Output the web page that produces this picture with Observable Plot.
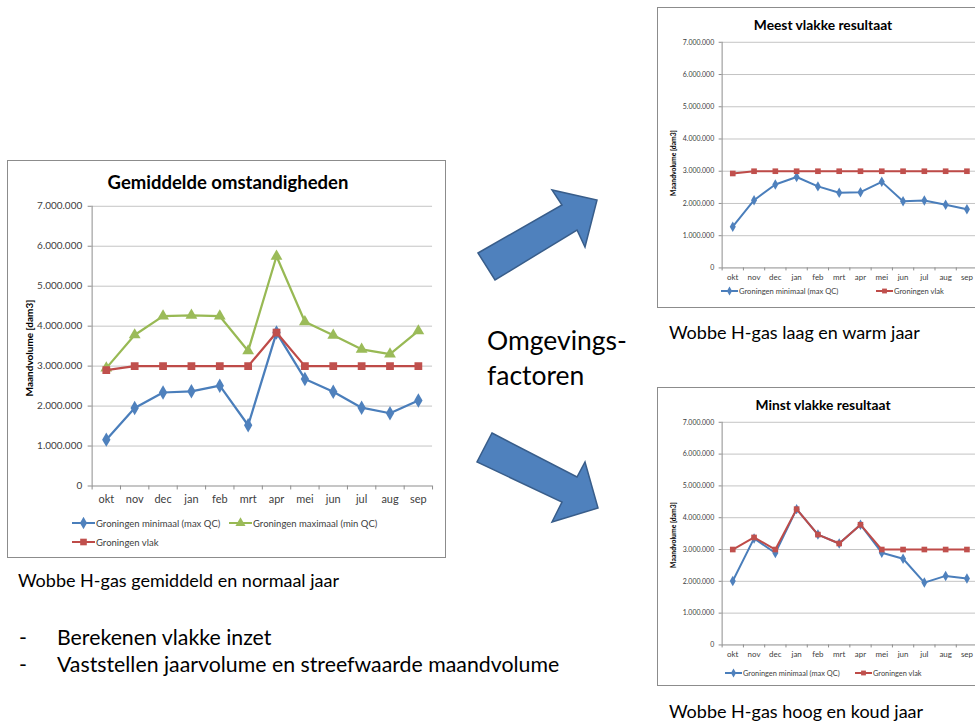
<!DOCTYPE html>
<html>
<head>
<meta charset="utf-8">
<script src="https://cdn.jsdelivr.net/npm/d3@7"></script>
<script src="https://cdn.jsdelivr.net/npm/@observablehq/plot@0.6"></script>
<style>
  html, body { margin: 0; padding: 0; background: #fff; }
  #page { position: relative; width: 975px; height: 722px; overflow: hidden; font-family: Lato, "Open Sans", sans-serif; color: #000; }
  .frame { position: absolute; border: 1px solid #8c8c8c; background: #fff; box-sizing: border-box; }
  .frame svg { position: absolute; left: 0; top: 0; }
  .title { position: absolute; font-weight: bold; white-space: nowrap; transform: translate(-50%, -50%); color: #000; }
  .ytitle { position: absolute; font-weight: bold; white-space: nowrap; transform: translate(-50%, -50%) rotate(-90deg); color: #000; }
  .legend { position: absolute; white-space: nowrap; color: #404040; display: flex; align-items: center; }
  .legend svg { position: static; margin-right: 1px; }
  .txt { position: absolute; white-space: nowrap; color: #000; }
</style>
</head>
<body>
<div id="page"></div>
<script>
// Months of the gas year
const months = ["okt", "nov", "dec", "jan", "feb", "mrt", "apr", "mei", "jun", "jul", "aug", "sep"];
const yTicks = [0, 1000000, 2000000, 3000000, 4000000, 5000000, 6000000, 7000000];

// Gemiddelde omstandigheden (maandvolume, dam3)
const gemMinimaal = [1160000, 1950000, 2340000, 2370000, 2510000, 1520000, 3840000, 2680000, 2360000, 1960000, 1820000, 2140000];
const gemMaximaal = [2950000, 3780000, 4250000, 4270000, 4250000, 3380000, 5750000, 4110000, 3770000, 3420000, 3300000, 3880000];
const gemVlak     = [2900000, 3000000, 3000000, 3000000, 3000000, 3000000, 3840000, 3000000, 3000000, 3000000, 3000000, 3000000];

// Meest vlakke resultaat
const meestMinimaal = [1280000, 2100000, 2590000, 2820000, 2530000, 2330000, 2350000, 2670000, 2070000, 2090000, 1960000, 1820000];
const meestVlak     = [2930000, 3000000, 3000000, 3000000, 3000000, 3000000, 3000000, 3000000, 3000000, 3000000, 3000000, 3000000];

// Minst vlakke resultaat
const minstMinimaal = [2010000, 3350000, 2890000, 4270000, 3470000, 3190000, 3780000, 2900000, 2710000, 1960000, 2170000, 2090000];
const minstVlak     = [3000000, 3380000, 3000000, 4270000, 3470000, 3190000, 3780000, 3000000, 3000000, 3000000, 3000000, 3000000];

const colors = {
  blue:  { line: "#4A7EBB", fill: "#4F81BD", symbol: "diamond" },
  green: { line: "#98B954", fill: "#9BBB59", symbol: "triangle" },
  red:   { line: "#BE4B48", fill: "#C0504D", symbol: "square" }
};

const nl = d3.formatLocale({ decimal: ",", thousands: ".", grouping: [3], currency: ["€", ""] }).format(",");
const axisGray = "#8c8c8c";
const gridGray = "#c4c4c4";

const page = document.getElementById("page");

function el(tag, cls, style, text) {
  const e = document.createElement(tag);
  if (cls) e.className = cls;
  Object.assign(e.style, style || {});
  if (text != null) e.textContent = text;
  return e;
}

function swatch(c, len, r) {
  const h = Math.ceil(r * 2 + 4);
  const svg = d3.create("svg").attr("width", len).attr("height", h);
  svg.append("line").attr("x1", 0).attr("x2", len).attr("y1", h / 2).attr("y2", h / 2)
    .attr("stroke", c.line).attr("stroke-width", 2);
  const sym = { diamond: d3.symbolDiamond, triangle: d3.symbolTriangle, square: d3.symbolSquare }[c.symbol];
  svg.append("path").attr("d", d3.symbol(sym, Math.PI * r * r)())
    .attr("transform", `translate(${len / 2},${h / 2})`).attr("fill", c.fill);
  return svg.node();
}

function chart(cfg) {
  const frame = el("div", "frame", { left: cfg.left + "px", top: cfg.top + "px", width: cfg.width + "px", height: cfg.height + "px" });
  const rows = months.map((m, i) => ({ i, m }));
  const marks = [
    Plot.ruleY(yTicks.slice(1), { stroke: gridGray, strokeWidth: 1 }),
    Plot.ruleY([0], { stroke: axisGray }),
    Plot.ruleX([-0.5], { y1: 0, y2: 7000000, stroke: axisGray }),
    Plot.axisY(yTicks, { tickSize: cfg.tick, tickPadding: cfg.ypad, tickFormat: nl, stroke: axisGray, fontSize: cfg.yFont, label: null }),
    Plot.axisX(d3.range(13).map(i => i - 0.5), { tickSize: cfg.tick, tickFormat: () => "", stroke: axisGray, label: null }),
    Plot.axisX(d3.range(12), { tickSize: 0, tickPadding: cfg.xpad, tickFormat: i => months[i], fontSize: cfg.xFont, label: null })
  ];
  for (const s of cfg.series) {
    marks.push(Plot.line(rows, { x: "i", y: d => s.values[d.i], stroke: s.c.line, strokeWidth: cfg.sw }));
    marks.push(Plot.dot(rows, { x: "i", y: d => s.values[d.i], symbol: s.c.symbol, fill: s.c.fill, r: cfg.r }));
  }
  const svg = Plot.plot({
    width: cfg.width,
    height: cfg.height,
    marginLeft: cfg.ml, marginRight: cfg.width - cfg.ml - cfg.pw,
    marginTop: cfg.mt, marginBottom: cfg.height - cfg.mt - cfg.ph,
    style: { fontFamily: "Lato, sans-serif", color: "#404040", background: "transparent", overflow: "visible" },
    x: { type: "linear", domain: [-0.5, 11.5] },
    y: { type: "linear", domain: [0, 7000000] },
    marks
  });
  frame.appendChild(svg);
  frame.appendChild(el("div", "title", { left: cfg.titleX + "px", top: cfg.titleY + "px", fontSize: cfg.titleFont + "px" }, cfg.title));
  frame.appendChild(el("div", "ytitle", { left: cfg.ytX + "px", top: cfg.ytY + "px", fontSize: cfg.ytFont + "px" }, "Maandvolume [dam3]"));
  for (const lg of cfg.legend) {
    const item = el("div", "legend", { left: lg.x + "px", top: lg.y + "px", fontSize: cfg.legFont + "px", transform: "translateY(-50%)" });
    item.appendChild(swatch(lg.c, cfg.swLen, cfg.r * 0.85));
    item.appendChild(el("span", null, {}, lg.label));
    frame.appendChild(item);
  }
  page.appendChild(frame);
}

// Gemiddelde omstandigheden
chart({
  left: 7, top: 160, width: 439, height: 398,
  ml: 84, pw: 342, mt: 45, ph: 281,
  tick: 4, ypad: 6, xpad: 9, yFont: 10, xFont: 11, sw: 2.25, r: 4.4,
  title: "Gemiddelde omstandigheden", titleX: 220, titleY: 21, titleFont: 18.5,
  ytX: 21, ytY: 187, ytFont: 10,
  legFont: 9.5, swLen: 23,
  series: [
    { values: gemMinimaal, c: colors.blue },
    { values: gemMaximaal, c: colors.green },
    { values: gemVlak, c: colors.red }
  ],
  legend: [
    { x: 64, y: 362, c: colors.blue, label: "Groningen minimaal (max QC)" },
    { x: 221, y: 362, c: colors.green, label: "Groningen maximaal (min QC)" },
    { x: 64, y: 381, c: colors.red, label: "Groningen vlak" }
  ]
});

// Meest vlakke resultaat
chart({
  left: 657, top: 7, width: 335, height: 301,
  ml: 64, pw: 257, mt: 34, ph: 227,
  tick: 3, ypad: 5, xpad: 6, yFont: 7, xFont: 8, sw: 2, r: 3.2,
  title: "Meest vlakke resultaat", titleX: 165, titleY: 16, titleFont: 13.8,
  ytX: 15, ytY: 155, ytFont: 6.8,
  legFont: 7.6, swLen: 17,
  series: [
    { values: meestMinimaal, c: colors.blue },
    { values: meestVlak, c: colors.red }
  ],
  legend: [
    { x: 63, y: 283, c: colors.blue, label: "Groningen minimaal (max QC)" },
    { x: 218, y: 283, c: colors.red, label: "Groningen vlak" }
  ]
});

// Minst vlakke resultaat
chart({
  left: 657, top: 387, width: 335, height: 299,
  ml: 64, pw: 257, mt: 34, ph: 224,
  tick: 3, ypad: 5, xpad: 6, yFont: 7, xFont: 8, sw: 2, r: 3.2,
  title: "Minst vlakke resultaat", titleX: 165, titleY: 16, titleFont: 13.8,
  ytX: 15, ytY: 147, ytFont: 6.8,
  legFont: 7.4, swLen: 17,
  series: [
    { values: minstMinimaal, c: colors.blue },
    { values: minstVlak, c: colors.red }
  ],
  legend: [
    { x: 67, y: 285, c: colors.blue, label: "Groningen minimaal (max QC)" },
    { x: 197, y: 285, c: colors.red, label: "Groningen vlak" }
  ]
});

// Block arrows towards the two scenario charts
const arrows = d3.select(page).append("svg")
  .attr("width", 975).attr("height", 722)
  .style("position", "absolute").style("left", 0).style("top", 0).style("pointer-events", "none");
arrows.append("polygon")
  .attr("points", "478,253 562,205 552,190 597,200 585,247 577,230 495,280")
  .attr("fill", "#4F81BD").attr("stroke", "#385D8A").attr("stroke-width", 1.5);
arrows.append("polygon")
  .attr("points", "492,433 577,477 585,462 598,508 552,522 562,502 477,462")
  .attr("fill", "#4F81BD").attr("stroke", "#385D8A").attr("stroke-width", 1.5);

// Captions and notes
page.appendChild(el("div", "txt", { left: "487px", top: "322px", fontSize: "26.5px", lineHeight: "36px" }, "Omgevings-"));
page.appendChild(el("div", "txt", { left: "487px", top: "357px", fontSize: "26.5px", lineHeight: "36px" }, "factoren"));
page.appendChild(el("div", "txt", { left: "669px", top: "320px", fontSize: "18px", lineHeight: "24px" }, "Wobbe H-gas laag en warm jaar"));
page.appendChild(el("div", "txt", { left: "669px", top: "699px", fontSize: "18px", lineHeight: "24px" }, "Wobbe H-gas hoog en koud jaar"));
page.appendChild(el("div", "txt", { left: "18px", top: "568px", fontSize: "18px", lineHeight: "24px" }, "Wobbe H-gas gemiddeld en normaal jaar"));
page.appendChild(el("div", "txt", { left: "19px", top: "623px", fontSize: "21.3px", lineHeight: "28px" }, "-"));
page.appendChild(el("div", "txt", { left: "57px", top: "623px", fontSize: "21.3px", lineHeight: "28px" }, "Berekenen vlakke inzet"));
page.appendChild(el("div", "txt", { left: "19px", top: "650px", fontSize: "21.3px", lineHeight: "28px" }, "-"));
page.appendChild(el("div", "txt", { left: "57px", top: "650px", fontSize: "21.3px", lineHeight: "28px" }, "Vaststellen jaarvolume en streefwaarde maandvolume"));
</script>
</body>
</html>
